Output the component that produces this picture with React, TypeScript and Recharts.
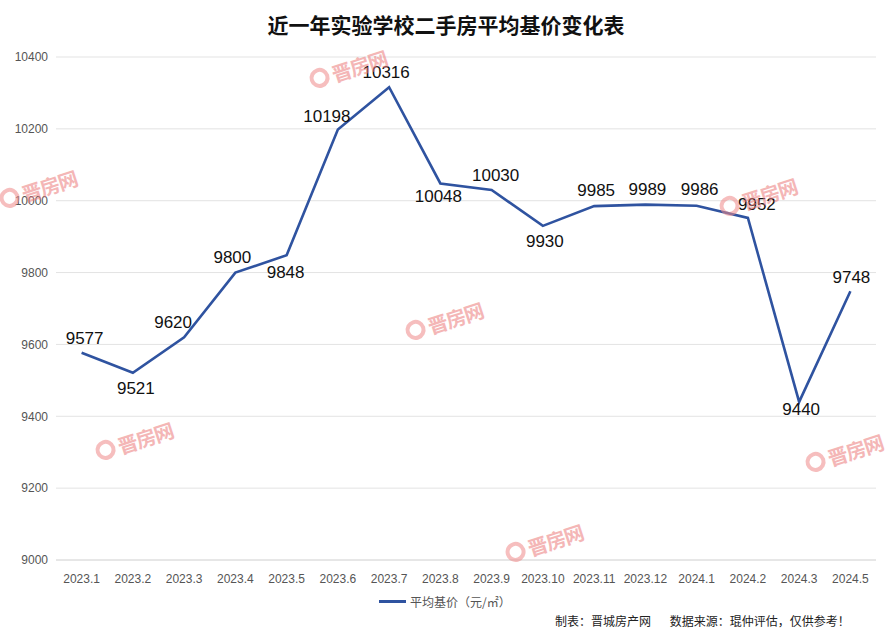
import React from 'react';
import { LineChart, Line, XAxis, YAxis, CartesianGrid } from 'recharts';

const months = [
  '2023.1', '2023.2', '2023.3', '2023.4', '2023.5', '2023.6', '2023.7', '2023.8',
  '2023.9', '2023.10', '2023.11', '2023.12', '2024.1', '2024.2', '2024.3', '2024.5',
];
const prices = [
  9577, 9521, 9620, 9800, 9848, 10198, 10316, 10048,
  10030, 9930, 9985, 9989, 9986, 9952, 9440, 9748,
];
const yTicks = [9000, 9200, 9400, 9600, 9800, 10000, 10200, 10400];

// label nudges (dx, dy) relative to each point, mimicking the original layout
const labelShift: [number, number][] = [
  [3, -14], [3, 16], [-11, -15], [-3, -15], [-1, 17], [-11, -13], [-3, -15], [-2, 13],
  [4, -14], [2, 16], [2, -16], [2, -15], [3, -16], [9, -13], [2, 8], [1, -14],
];

const watermarks = [
  { x: 350, y: 68 }, { x: 40, y: 188 }, { x: 760, y: 196 }, { x: 446, y: 320 },
  { x: 136, y: 440 }, { x: 846, y: 452 }, { x: 546, y: 542 },
];

const data = months.map((m, i) => ({ month: m, price: prices[i] }));

const LINE = '#2f53a0';
const FONT = 'Arial, "Liberation Sans", "Noto Sans CJK SC", sans-serif';

const PointLabel = (props: any) => {
  const { x, y, value, index } = props;
  const [dx, dy] = labelShift[index] || [0, -14];
  return (
    <text
      x={x + dx}
      y={y + dy}
      textAnchor="middle"
      dominantBaseline="central"
      fontSize={17}
      fill="#111"
      fontFamily={FONT}
    >
      {value}
    </text>
  );
};

const Watermark = ({ x, y }: { x: number; y: number }) => (
  <div
    style={{
      position: 'absolute',
      left: x - 42,
      top: y - 16,
      width: 84,
      height: 32,
      transform: 'rotate(-18deg)',
      display: 'flex',
      alignItems: 'center',
      opacity: 0.55,
      pointerEvents: 'none',
    }}
  >
    <div
      style={{
        width: 20,
        height: 20,
        borderRadius: '50%',
        border: '4px solid #f08a8a',
        boxSizing: 'border-box',
        marginRight: 3,
      }}
    />
    <span
      style={{
        fontFamily: '"Noto Sans CJK SC", sans-serif',
        fontWeight: 700,
        fontSize: 20,
        color: '#ec7b7b',
        letterSpacing: -1,
      }}
    >
      晋房网
    </span>
  </div>
);

const App: React.FC = () => {
  return (
    <div
      style={{
        position: 'absolute',
        left: 0,
        top: 0,
        width: 892,
        height: 640,
        background: '#fff',
        fontFamily: FONT,
        overflow: 'hidden',
      }}
    >
      <div
        style={{
          position: 'absolute',
          top: 9,
          left: 0,
          width: 892,
          textAlign: 'center',
          fontFamily: '"Noto Sans CJK SC", sans-serif',
          fontWeight: 700,
          fontSize: 21,
          color: '#111',
        }}
      >
        近一年实验学校二手房平均基价变化表
      </div>
      <LineChart
        width={892}
        height={640}
        data={data}
        margin={{ top: 57, right: 16, left: 0, bottom: 50 }}
      >
        <CartesianGrid vertical={false} stroke="#e3e3e3" />
        <XAxis
          dataKey="month"
          interval={0}
          padding={{ left: 25.6, right: 25.6 }}
          height={30}
          tickLine={false}
          tickSize={0}
          tickMargin={14}
          axisLine={{ stroke: '#dcdcdc' }}
          tick={{ fontSize: 12, fill: '#555', fontFamily: FONT }}
        />
        <YAxis
          width={56}
          domain={[9000, 10400]}
          ticks={yTicks}
          axisLine={false}
          tickLine={false}
          tickSize={0}
          tickMargin={8}
          tick={{ fontSize: 12, fill: '#555', fontFamily: FONT }}
        />
        <Line
          type="linear"
          dataKey="price"
          name="平均基价（元/㎡）"
          stroke={LINE}
          strokeWidth={2.6}
          dot={false}
          activeDot={false}
          isAnimationActive={false}
          label={<PointLabel />}
        />
      </LineChart>
      {watermarks.map((w, i) => (
        <Watermark key={i} x={w.x} y={w.y} />
      ))}
      <div
        style={{
          position: 'absolute',
          top: 593,
          left: 379,
          display: 'flex',
          alignItems: 'center',
          fontSize: 12,
          color: '#555',
          fontFamily: '"Noto Sans CJK SC", sans-serif',
        }}
      >
        <div style={{ width: 27, height: 3, background: LINE, marginRight: 4 }} />
        <span>平均基价（元/㎡）</span>
      </div>
      <div
        style={{
          position: 'absolute',
          top: 612,
          left: 555,
          fontSize: 12,
          color: '#222',
          fontFamily: '"Noto Sans CJK SC", sans-serif',
          whiteSpace: 'pre',
        }}
      >
        {'制表：晋城房产网       数据来源：琨仲评估，仅供参考！'}
      </div>
    </div>
  );
};

export default App;
